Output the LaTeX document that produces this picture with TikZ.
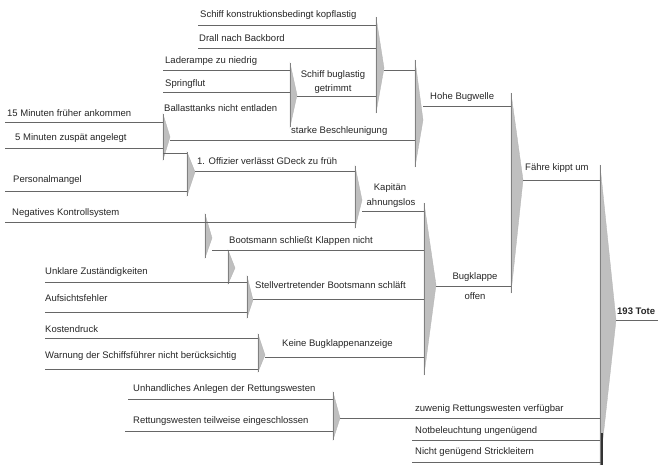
\documentclass[tikz,border=0pt]{standalone}
\usepackage{fontspec}
\setmainfont{Liberation Sans}
\begin{document}
\begin{tikzpicture}[x=1pt,y=-1pt,
  lbl/.style={anchor=west,inner sep=0pt,font=\fontsize{9.5}{11}\selectfont,text=black!85},
  clbl/.style={anchor=center,inner sep=0pt,font=\fontsize{9.5}{11}\selectfont,text=black!85},
  ln/.style={draw=black!60,line width=0.6pt},
  wedgefill/.style={fill=black!25,draw=black!30,line width=0.3pt},
  barline/.style={draw=black!50,line width=0.5pt}]
\useasboundingbox (0,0) rectangle (660,466);
\fill[white] (0,0) rectangle (660,466);
% junction: x, ytop, ybot, apex x, apex y
\newcommand{\junc}[6]{%
  \coordinate (#1t) at (#2,#3); \coordinate (#1b) at (#2,#4); \coordinate (#1) at (#5,#6);
  \path[wedgefill] (#1t) -- (#1) -- (#1b) -- cycle;
  \draw[barline] (#1t) -- (#1b);}
\junc{jA}{290}{63}{127}{297}{95}
\junc{jB}{376}{17}{113}{384}{68}
\junc{jC}{163}{114}{160}{170}{137}
\junc{jD}{187}{152}{196}{195}{172}
\junc{jE}{355}{166}{228}{362}{200}
\junc{jF}{205}{214}{258}{212}{238}
\junc{jG}{228}{250}{284}{235}{268}
\junc{jH}{247}{276}{318}{253}{300}
\junc{jI}{258}{334}{372}{265}{355}
\junc{jJ}{424}{203}{375}{436}{285}
\junc{jK}{415}{60}{167}{423}{120}
\junc{jL}{511}{93}{293}{523}{180}
\junc{jM}{600}{165}{465}{616}{320}
\junc{jN}{333}{392}{440}{340}{418}
% texts
\node[lbl] (t1) at (200,15) {Schiff konstruktionsbedingt kopflastig};
\node[lbl] (t2) at (199,38) {Drall nach Backbord};
\node[lbl] (t3) at (165,61) {Laderampe zu niedrig};
\node[lbl] (t4) at (165,84) {Springflut};
\node[lbl] (t5) at (164,108) {Ballasttanks nicht entladen};
\node[clbl,align=center,font=\fontsize{9.5}{14}\selectfont] (t6) at (333,82) {Schiff buglastig\\getrimmt};
\node[lbl] (t7) at (7,113) {15 Minuten früher ankommen};
\node[lbl] (t8) at (15,138) {5 Minuten zuspät angelegt};
\node[lbl] (t9) at (291,131) {starke Beschleunigung};
\node[lbl] (t10) at (197,161) {1. Offizier verlässt GDeck zu früh};
\node[lbl] (t11) at (13,180) {Personalmangel};
\node[lbl] (t12) at (12,213) {Negatives Kontrollsystem};
\node[clbl] (t13a) at (390,188) {Kapitän};
\node[clbl] (t13b) at (391,203) {ahnungslos};
\node[lbl] (t14) at (229,241) {Bootsmann schließt Klappen nicht};
\node[lbl] (t15) at (45,272) {Unklare Zuständigkeiten};
\node[lbl] (t16) at (255,285) {Stellvertretender Bootsmann schläft};
\node[lbl] (t17) at (45,298) {Aufsichtsfehler};
\node[lbl] (t18) at (45,329) {Kostendruck};
\node[lbl] (t19) at (45,356) {Warnung der Schiffsführer nicht berücksichtig};
\node[lbl] (t20) at (282,344) {Keine Bugklappenanzeige};
\node[lbl] (t21) at (133,389) {Unhandliches Anlegen der Rettungswesten};
\node[lbl] (t22) at (133,421) {Rettungswesten teilweise eingeschlossen};
\node[lbl] (t23) at (430,97) {Hohe Bugwelle};
\node[clbl] (t24a) at (475,277) {Bugklappe};
\node[clbl] (t24b) at (475,296) {offen};
\node[lbl] (t25) at (525,168) {Fähre kippt um};
\node[lbl,font=\fontsize{9.5}{11}\bfseries] (t26) at (617,311) {193 Tote};
\node[lbl] (t27) at (415,409) {zuwenig Rettungswesten verfügbar};
\node[lbl] (t28) at (415,431) {Notbeleuchtung ungenügend};
\node[lbl] (t29) at (415,452) {Nicht genügend Strickleitern};
% lines
\draw[ln] (198,25) -- (jBt |- 0,25);
\draw[ln] (198,48) -- (jBt |- 0,48);
\draw[ln] (163,70) -- (jAt |- 0,70);
\draw[ln] (163,92) -- (jAt |- 0,92);
\draw[ln] (jA |- 0,96) -- (jBt |- 0,96);
\draw[ln] (jB |- 0,70) -- (jKt |- 0,70);
\draw[ln] (5,122) -- (jCt |- 0,122);
\draw[ln] (5,148) -- (jCt |- 0,148);
\draw[ln] (jC |- 0,140) -- (jKt |- 0,140);
\draw[ln] (jCt |- 0,153) -- (jDt |- 0,153);
\draw[ln] (5,191) -- (jDt |- 0,191);
\draw[ln] (jD |- 0,171) -- (jEt |- 0,171);
\draw[ln] (5,222) -- (jEt |- 0,222);
\draw[ln] (jE |- 0,211) -- (jJt |- 0,211);
\draw[ln] (jF |- 0,250) -- (jJt |- 0,250);
\draw[ln] (45,282) -- (jHt |- 0,282);
\draw[ln] (45,312) -- (jHt |- 0,312);
\draw[ln] (jH |- 0,299) -- (jJt |- 0,299);
\draw[ln] (45,338) -- (jIt |- 0,338);
\draw[ln] (45,369) -- (jIt |- 0,369);
\draw[ln] (jI |- 0,357) -- (jJt |- 0,357);
\draw[ln] (jJ |- 0,286) -- (jLt |- 0,286);
\draw[ln] (jK |- 0,106) -- (jLt |- 0,106);
\draw[ln] (jL |- 0,180) -- (jMt |- 0,180);
\draw[ln] (128,399) -- (jNt |- 0,399);
\draw[ln] (125,431) -- (jNt |- 0,431);
\draw[ln] (jN |- 0,418) -- (jMt |- 0,418);
\draw[ln] (412,440) -- (jMt |- 0,440);
\draw[ln] (412,462) -- (602,462);
\draw[ln] (jM |- 0,320) -- (658,320);
\draw[black!80,line width=1.2pt] (602,433) -- (602,465);
\end{tikzpicture}
\end{document}
